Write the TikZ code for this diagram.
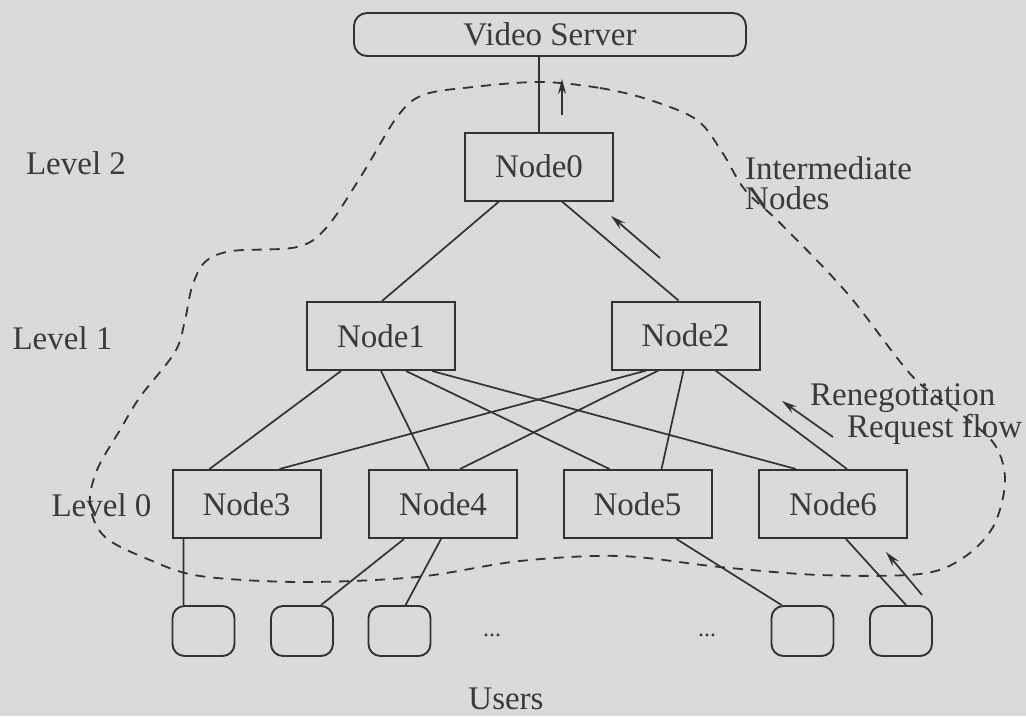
\documentclass[tikz,border=0pt]{standalone}
\usepackage{fontspec}
\setmainfont{Liberation Serif}
\usetikzlibrary{arrows.meta}
\definecolor{bgc}{RGB}{218,218,218}
\definecolor{linec}{RGB}{50,50,50}
\definecolor{textc}{RGB}{58,58,58}
\tikzset{
  box/.style={draw=linec, line width=2pt, minimum width=148pt, minimum height=68pt, inner sep=0pt, text=textc},
  userbox/.style={draw=linec, line width=1.9pt, rounded corners=12pt, minimum width=62pt, minimum height=50pt, inner sep=0pt},
  serverbox/.style={draw=linec, line width=1.9pt, rounded corners=13pt, minimum width=392pt, minimum height=43pt, inner sep=0pt, text=textc},
  link/.style={draw=linec, line width=1.7pt},
  flow/.style={draw=linec, line width=1.7pt, -{Stealth[length=15pt,width=8pt]}},
  region/.style={draw=linec, line width=1.8pt, dash pattern=on 10pt off 8pt},
  lbl/.style={text=textc, inner sep=0pt},
}
\begin{document}
\begin{tikzpicture}[x=1pt,y=-1pt,font=\fontsize{33}{30}\selectfont]
\fill[bgc] (0,0) rectangle (1026,716);
\useasboundingbox (0,0) rectangle (1026,716);

% nodes
\node[serverbox] (vs) at (550,34.5) {Video Server};
\node[box] (n0) at (539,166.5) {Node0};
\node[box] (n1) at (381,336) {Node1};
\node[box] (n2) at (685.5,335.5) {Node2};
\node[box] (n3) at (246.5,504) {Node3};
\node[box] (n4) at (443,504) {Node4};
\node[box] (n5) at (637.5,504) {Node5};
\node[box] (n6) at (833,504) {Node6};
\node[userbox] (u1) at (203.5,631) {};
\node[userbox] (u2) at (302,631) {};
\node[userbox] (u3) at (399.5,631) {};
\node[userbox] (u4) at (802.5,631) {};
\node[userbox] (u5) at (901,631) {};

% labels
\node[lbl] (l2) at (76,163) {Level 2};
\node[lbl] (l1) at (62.5,338) {Level 1};
\node[lbl] (l0) at (101.5,505) {Level 0};
\node[lbl, anchor=west, align=left] (inter) at (745,183) {Intermediate\\Nodes};
\node[lbl, anchor=west, align=left] (reneg) at (810,414) {Renegotiation\\\hspace*{37pt}Request flow};
\node[lbl] (users) at (506,699) {Users};
\node[lbl, font=\fontsize{24}{24}\selectfont] (dots1) at (492,635) {...};
\node[lbl, font=\fontsize{24}{24}\selectfont] (dots2) at (707,635) {...};

% connectors
\draw[link] (n0.north) -- (n0.north |- vs.south);
\draw[link] ([xshift=35pt]n0.south west) -- ([xshift=76pt]n1.north west);
\draw[link] ([xshift=98pt]n0.south west) -- ([xshift=68pt]n2.north west);

\draw[link] ([xshift=35pt]n1.south west) -- ([xshift=38pt]n3.north west);
\draw[link] ([xshift=75pt]n1.south west) -- ([xshift=61pt]n4.north west);
\draw[link] ([xshift=100pt]n1.south west) -- ([xshift=47pt]n5.north west);
\draw[link] ([xshift=126pt]n1.south west) -- ([xshift=38pt]n6.north west);

\draw[link] ([xshift=36pt]n2.south west) -- ([xshift=108pt]n3.north west);
\draw[link] ([xshift=48pt]n2.south west) -- ([xshift=92pt]n4.north west);
\draw[link] ([xshift=73pt]n2.south west) -- ([xshift=99pt]n5.north west);
\draw[link] ([xshift=105pt]n2.south west) -- ([xshift=89pt]n6.north west);

\draw[link] ([xshift=12pt]n3.south west) -- ([xshift=12pt]u1.north west);
\draw[link] ([xshift=36pt]n4.south west) -- ([xshift=51pt]u2.north west);
\draw[link] ([xshift=73pt]n4.south west) -- ([xshift=38pt]u3.north west);
\draw[link] ([xshift=114pt]n5.south west) -- ([xshift=11pt]u4.north west);
\draw[link] ([xshift=88pt]n6.south west) -- ([xshift=37pt]u5.north west);

% request flow arrows
\coordinate (f0s) at (562,115);
\coordinate (f0e) at (562,79);
\coordinate (f1s) at (660,258);
\coordinate (f1e) at (611,216);
\coordinate (f2s) at (833,437);
\coordinate (f2e) at (782,401);
\coordinate (f3s) at (922,595);
\coordinate (f3e) at (886,552);
\draw[flow] (f0s) -- (f0e);
\draw[flow] (f1s) -- (f1e);
\draw[flow] (f2s) -- (f2e);
\draw[flow] (f3s) -- (f3e);

% intermediate nodes region
\draw[region] plot[smooth cycle, tension=0.55] coordinates {
  (540,82) (600,88) (650,100) (697,120) (722,152) (745,190) (780,223)
  (847,293) (913,377) (960,413) (995,445) (1005,482) (993,527) (963,558)
  (920,574) (820,575) (720,567) (620,556) (520,561) (417,577) (300,582)
  (200,576) (150,560) (105,537) (90,505) (97,470) (120,430) (140,397)
  (175,352) (185,320) (192,287) (205,262) (232,251) (297,247) (327,227)
  (363,173) (397,117) (423,95) (473,87)};
\end{tikzpicture}
\end{document}
